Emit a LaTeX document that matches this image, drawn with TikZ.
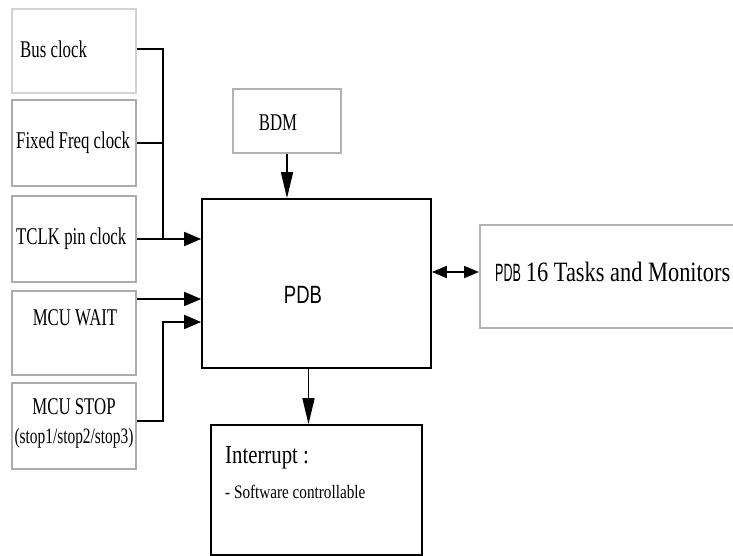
\documentclass[tikz,border=0pt]{standalone}
\usepackage{fontspec}
\setmainfont[FakeStretch=0.70]{Liberation Serif}
\newfontfamily\pdbfont[FakeStretch=0.74]{Liberation Sans}
\newfontfamily\pdbnarrow[FakeStretch=0.5]{Liberation Sans}
\newfontfamily\taskfont[FakeStretch=0.8]{Liberation Serif}
\usetikzlibrary{arrows.meta,positioning}

\begin{document}
\begin{tikzpicture}[x=1pt,y=-1pt,
  src/.style={draw=gray!65,line width=2pt,minimum width=124pt,inner sep=0pt},
  blk/.style={draw,line width=1.7pt,inner sep=0pt},
  txt/.style={inner sep=0pt,font=\fontsize{24}{27}\selectfont},
  wire/.style={line width=1.7pt},
  arr/.style={wire,-{Triangle[length=17pt,width=14pt]}},
  varr/.style={wire,-{Triangle[length=26pt,width=12pt]}},
  darr/.style={wire,{Triangle[length=15pt,width=12pt]}-{Triangle[length=15pt,width=12pt]}}
]
\useasboundingbox (0,0) rectangle (733,556);
% clock and mode sources
\node[src,draw=gray!35,minimum height=84pt] (bus) at (74,51) {};
\node[src,minimum height=86pt] (fix)  at (74,143) {};
\node[src,minimum height=86pt] (tclk) at (74,239) {};
\node[src,minimum height=84pt] (wait) at (74,333) {};
\node[src,minimum height=86pt] (stop) at (74,426) {};
\node[txt,anchor=west] (bustxt)  at (20,49)  {Bus clock};
\node[txt,anchor=west] (fixtxt)  at (16,143) {Fixed Freq clock};
\node[txt,anchor=west] (tclktxt) at (16,239) {TCLK pin clock};
\node[txt] (waittxt) at (75,318) {MCU WAIT};
\node[txt] (stoptxt) at (74,407) {MCU STOP};
\node[txt,font=\fontsize{22}{25}\selectfont] (stopsub) at (74,438) {(stop1/stop2/stop3)};
% PDB block
\node[blk,minimum width=229pt,minimum height=169pt] (pdb) at (316.5,283.5) {};
\node[inner sep=0pt,font=\pdbfont\fontsize{25}{28}\selectfont] (pdbtxt) at (303,295) {PDB};
\node[src,draw=gray!60,minimum width=108pt,minimum height=64pt] (bdm) at (287,121) {};
\node[txt] (bdmtxt) at (278,123) {BDM};
\node[blk,minimum width=211pt,minimum height=130pt] (irq) at (316.5,490) {};
\node[txt,anchor=west,font=\taskfont\fontsize{26}{30}\selectfont] (irqtxt) at (225,458) {Interrupt :};
\node[txt,anchor=west,font=\taskfont\fontsize{19}{22}\selectfont] (irqsub) at (225,492) {- Software controllable};
\node[src,draw=gray!60,minimum width=260pt,minimum height=103pt] (tasks) at (610,276.5) {};
\node[inner sep=0pt,anchor=west] (taskstxt) at (495,272)
  {{\pdbnarrow\fontsize{25}{28}\selectfont PDB}\hspace{5pt}{\taskfont\fontsize{28}{32}\selectfont 16 Tasks and Monitors}};
% connectors
\coordinate (join) at (163,239);
\coordinate (stopup) at (163,322);
\draw[wire] (bus.east |- bustxt) -| (join);
\draw[wire] (fix.east) -- (fix.east -| join);
\draw[arr] (tclk.east) -- (tclk.east -| pdb.west);
\draw[arr] ([yshift=34pt]wait.east) -- ([yshift=34pt]wait.east -| pdb.west);
\draw[arr] ([yshift=5pt]stop.east) -| (stopup) -- (stopup -| pdb.west);
\draw[varr] (bdm.south) -- (bdm.south |- pdb.north);
\draw[varr] ([xshift=-8pt]pdb.south) -- ([xshift=-8pt]pdb.south |- irq.north);
\draw[darr] (pdb.east |- taskstxt) -- (tasks.west |- taskstxt);
\end{tikzpicture}
\end{document}
